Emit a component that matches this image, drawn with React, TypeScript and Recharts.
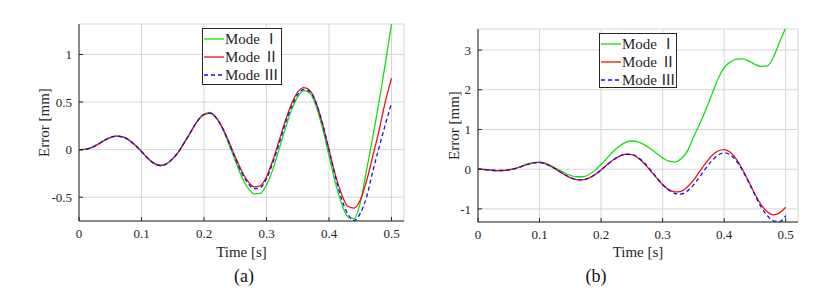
import React from "react";
import { LineChart, Line, XAxis, YAxis, CartesianGrid, Legend } from "recharts";

// sample times [s]
const time = [
  0, 0.01, 0.02, 0.03, 0.04, 0.05, 0.06, 0.07, 0.08, 0.09,
  0.1, 0.11, 0.12, 0.13, 0.14, 0.15, 0.16, 0.17, 0.18, 0.19,
  0.2, 0.21, 0.22, 0.23, 0.24, 0.25, 0.26, 0.27, 0.28, 0.29,
  0.3, 0.31, 0.32, 0.33, 0.34, 0.35, 0.36, 0.37, 0.38, 0.39,
  0.4, 0.41, 0.42, 0.43, 0.44, 0.45, 0.46, 0.47, 0.48, 0.49, 0.5,
];

const xTicks = [0, 0.1, 0.2, 0.3, 0.4, 0.5];
const yTicksA = [-0.5, 0, 0.5, 1];
const yTicksB = [-1, 0, 1, 2, 3];

const modeNames = ["Mode Ⅰ", "Mode Ⅱ", "Mode Ⅲ"];

// (a) error [mm]
const modeIA = [
  0, 0.003, 0.022, 0.055, 0.095, 0.127, 0.141, 0.133, 0.1, 0.045,
  -0.02, -0.09, -0.145, -0.167, -0.15, -0.095, -0.015, 0.09, 0.2, 0.305,
  0.37, 0.39, 0.33, 0.215, 0.055, -0.115, -0.28, -0.4, -0.465, -0.46,
  -0.37, -0.21, 0.0, 0.22, 0.415, 0.555, 0.62, 0.59, 0.445, 0.215,
  -0.065, -0.345, -0.565, -0.705, -0.725, -0.56, -0.22, 0.13, 0.5, 0.9, 1.32,
];
const modeIIA = [
  0, 0.003, 0.022, 0.055, 0.095, 0.127, 0.141, 0.133, 0.1, 0.045,
  -0.02, -0.09, -0.145, -0.167, -0.15, -0.095, -0.015, 0.09, 0.2, 0.305,
  0.368, 0.38, 0.33, 0.225, 0.08, -0.075, -0.22, -0.33, -0.39, -0.38,
  -0.285, -0.115, 0.09, 0.3, 0.48, 0.605, 0.652, 0.62, 0.48, 0.26,
  0.0, -0.26, -0.465, -0.595, -0.615, -0.53, -0.33, -0.07, 0.2, 0.5, 0.75,
];
const modeIIIA = [
  0, 0.003, 0.022, 0.055, 0.095, 0.127, 0.141, 0.133, 0.1, 0.045,
  -0.02, -0.09, -0.145, -0.167, -0.15, -0.095, -0.015, 0.09, 0.2, 0.305,
  0.369, 0.383, 0.33, 0.22, 0.07, -0.09, -0.24, -0.35, -0.41, -0.4,
  -0.305, -0.14, 0.06, 0.27, 0.45, 0.58, 0.632, 0.605, 0.48, 0.265,
  -0.005, -0.28, -0.515, -0.675, -0.745, -0.67, -0.5, -0.23, 0.02, 0.26, 0.49,
];

// (b) error [mm]
const modeIB = [
  0, -0.008, -0.022, -0.034, -0.032, -0.015, 0.02, 0.07, 0.125, 0.165,
  0.175, 0.145, 0.08, -0.005, -0.09, -0.155, -0.19, -0.19, -0.14, -0.03,
  0.12, 0.285, 0.45, 0.585, 0.675, 0.71, 0.69, 0.62, 0.52, 0.4,
  0.285, 0.2, 0.18, 0.26, 0.45, 0.8, 1.13, 1.49, 1.88, 2.27,
  2.56, 2.7, 2.77, 2.78, 2.72, 2.64, 2.59, 2.6, 2.82, 3.2, 3.56,
];
const modeIIB = [
  0, -0.008, -0.022, -0.034, -0.033, -0.018, 0.015, 0.065, 0.12, 0.16,
  0.169, 0.132, 0.059, -0.035, -0.132, -0.212, -0.261, -0.27, -0.226, -0.138,
  -0.018, 0.113, 0.236, 0.328, 0.376, 0.366, 0.284, 0.145, -0.032, -0.219,
  -0.391, -0.516, -0.572, -0.556, -0.45, -0.28, -0.063, 0.151, 0.338, 0.457,
  0.494, 0.424, 0.247, -0.013, -0.314, -0.63, -0.89, -1.07, -1.15, -1.1, -0.96,
];
const modeIIIB = [
  0, -0.008, -0.022, -0.034, -0.033, -0.018, 0.015, 0.065, 0.12, 0.16,
  0.169, 0.132, 0.059, -0.035, -0.132, -0.212, -0.261, -0.27, -0.226, -0.138,
  -0.018, 0.113, 0.236, 0.328, 0.376, 0.37, 0.296, 0.165, -0.011, -0.202,
  -0.384, -0.524, -0.612, -0.625, -0.552, -0.4, -0.198, 0.02, 0.212, 0.353,
  0.41, 0.363, 0.206, -0.034, -0.332, -0.65, -0.947, -1.165, -1.3, -1.32, -1.17,
];

const FONT = "'Liberation Serif', 'Times New Roman', serif";
const LEGEND_FONT = "'Liberation Serif', 'Noto Sans CJK SC', serif";
const INK = "#262626";
const GREEN = "#10e010";
const RED = "#f01010";
const BLUE = "#1010f0";

const styles = [
  { key: "m1", color: GREEN, dash: undefined },
  { key: "m2", color: RED, dash: undefined },
  { key: "m3", color: BLUE, dash: "4 3" },
];

function ModeLegend({ width, height }: { width: number; height: number }) {
  return (
    <div
      style={{
        width,
        height,
        boxSizing: "border-box",
        border: `1px solid ${INK}`,
        background: "#fff",
        paddingTop: 1,
        paddingLeft: 1,
      }}
    >
      {styles.map((s, i) => (
        <div key={s.key} style={{ display: "flex", alignItems: "center", height: 18 }}>
          <svg width={20} height={4} style={{ display: "block" }}>
            <line x1={0} x2={20} y1={2} y2={2} stroke={s.color} strokeWidth={1.3} strokeDasharray={s.dash} />
          </svg>
          <span style={{ marginLeft: 1, fontSize: 15, fontFamily: LEGEND_FONT, color: INK, whiteSpace: "pre", lineHeight: "18px" }}>
            {modeNames[i]}
          </span>
        </div>
      ))}
    </div>
  );
}

interface PanelProps {
  rows: any[];
  left: number;
  margin: { top: number; right: number; bottom: number; left: number };
  xHeight: number;
  yDomain: [number, number];
  yTicks: number[];
  yLabelOffset: number;
  legend: { left: number; top: number; width: number; height: number };
}

function Panel({ rows, left, margin, xHeight, yDomain, yTicks, yLabelOffset, legend }: PanelProps) {
  const tick = { fill: INK, fontSize: 13, fontFamily: FONT };
  return (
    <div style={{ position: "absolute", left, top: 0 }}>
      <LineChart width={420} height={297} data={rows} margin={margin}>
        <CartesianGrid stroke="#d6d6d6" strokeWidth={1} />
        <XAxis
          dataKey="t"
          type="number"
          domain={[0, 0.52]}
          ticks={xTicks}
          allowDataOverflow
          height={xHeight}
          stroke={INK}
          tickSize={-4}
          tickMargin={12}
          tick={tick}
          label={{ value: "Time [s]", position: "insideBottom", offset: 4, fill: INK, fontSize: 15, fontFamily: FONT }}
        />
        <XAxis
          xAxisId="top"
          orientation="top"
          dataKey="t"
          type="number"
          domain={[0, 0.52]}
          ticks={xTicks}
          allowDataOverflow
          height={0}
          stroke={INK}
          tickSize={-4}
          tick={false}
        />
        <YAxis
          type="number"
          domain={yDomain}
          ticks={yTicks}
          allowDataOverflow
          width={40}
          stroke={INK}
          tickSize={-4}
          tickMargin={11}
          tick={tick}
          label={{
            value: "Error [mm]",
            angle: -90,
            position: "insideLeft",
            offset: yLabelOffset,
            fill: INK,
            fontSize: 15,
            fontFamily: FONT,
            style: { textAnchor: "middle" },
          }}
        />
        <YAxis
          yAxisId="right"
          orientation="right"
          type="number"
          domain={yDomain}
          ticks={yTicks}
          allowDataOverflow
          width={0}
          stroke={INK}
          tickSize={-4}
          tick={false}
        />
        {styles.map((s) => (
          <Line
            key={s.key}
            dataKey={s.key}
            type="monotone"
            stroke={s.color}
            strokeWidth={1.3}
            strokeDasharray={s.dash}
            dot={false}
            activeDot={false}
            isAnimationActive={false}
          />
        ))}
        <Legend
          layout="vertical"
          align="center"
          verticalAlign="middle"
          wrapperStyle={{ left: legend.left, top: legend.top, width: legend.width, height: legend.height }}
          content={() => <ModeLegend width={legend.width} height={legend.height} />}
        />
      </LineChart>
    </div>
  );
}

export default function App() {
  const rowsA = time.map((t, i) => ({ t, m1: modeIA[i], m2: modeIIA[i], m3: modeIIIA[i] }));
  const rowsB = time.map((t, i) => ({ t, m1: modeIB[i], m2: modeIIB[i], m3: modeIIIB[i] }));
  const caption: React.CSSProperties = {
    position: "absolute",
    top: 267,
    width: 40,
    textAlign: "center",
    fontFamily: FONT,
    fontSize: 18,
    lineHeight: "18px",
    color: "#111",
  };
  return (
    <div style={{ position: "absolute", left: 0, top: 0, width: 838, height: 297, background: "#fff" }}>
      <Panel
        rows={rowsA}
        left={0}
        margin={{ top: 24, right: 16, bottom: 36, left: 39 }}
        xHeight={40}
        yDomain={[-0.75, 1.32]}
        yTicks={yTicksA}
        yLabelOffset={5}
        legend={{ left: 202, top: 28, width: 80, height: 57 }}
      />
      <Panel
        rows={rowsB}
        left={418}
        margin={{ top: 29, right: 40, bottom: 36, left: 20 }}
        xHeight={39}
        yDomain={[-1.33, 3.53]}
        yTicks={yTicksB}
        yLabelOffset={16}
        legend={{ left: 181, top: 33, width: 78, height: 55 }}
      />
      <div style={{ ...caption, left: 224 }}>(a)</div>
      <div style={{ ...caption, left: 576 }}>(b)</div>
    </div>
  );
}
